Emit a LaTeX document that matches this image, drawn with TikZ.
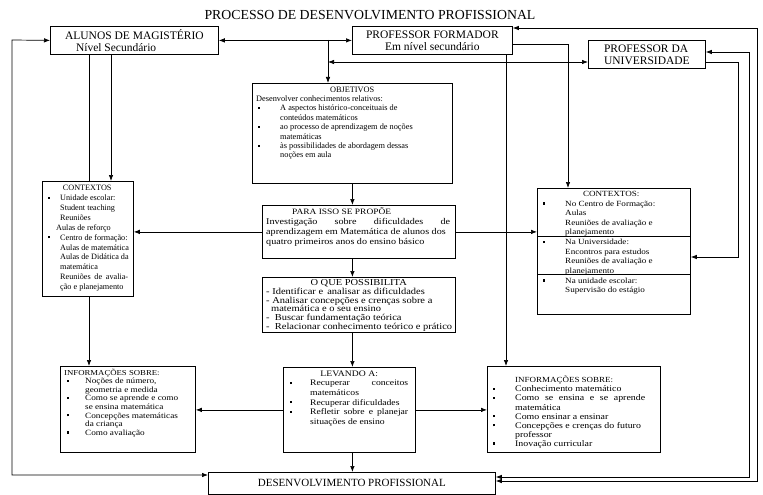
\documentclass[tikz,border=0pt]{standalone}
\usepackage{fontspec}
\setmainfont{Liberation Serif}
\newfontfamily\wf[FakeStretch=1.15]{Liberation Serif}
\usetikzlibrary{arrows.meta}
\newcommand{\fs}[2]{\fontsize{#1}{#2}\selectfont\lineskiplimit=-50pt\relax}
\newcommand{\bq}[2]{\makebox[#2][l]{\hspace*{#1}\rule[0.22em]{2.2pt}{2.2pt}}}
\newcommand{\ci}[1]{\hspace*{#1}}
\begin{document}
\begin{tikzpicture}[x=1pt,y=-1pt,
  box/.style={draw,line width=0.8pt,fill=white,anchor=north west,inner sep=0pt},
  txt/.style={anchor=north west,inner sep=0pt,align=left},
  conn/.style={line width=0.7pt},
  arr/.style={conn,-{Latex[length=6pt,width=4.5pt]}},
  darr/.style={conn,{Latex[length=6pt,width=4.5pt]}-{Latex[length=6pt,width=4.5pt]}},
  sepline/.style={line width=0.6pt}]
\useasboundingbox (0,0) rectangle (763,495);

% title
\node[font=\fs{13.8}{14}] (title) at (370,15) {PROCESSO DE DESENVOLVIMENTO PROFISSIONAL};

% top boxes
\node[box,minimum width=168pt,minimum height=28pt,align=left,font=\fs{11.5}{12}] (alunos) at (50,26) {ALUNOS DE MAGISTÉRIO\\\hspace*{11pt}Nível Secundário};
\node[box,minimum width=160pt,minimum height=28pt,align=center,font=\fs{11.5}{12}] (form) at (352,26) {PROFESSOR FORMADOR\\Em nível secundário};
\node[box,minimum width=117pt,minimum height=28pt,align=left,font=\fs{11.5}{12}] (pdu) at (588,40) {PROFESSOR DA\\UNIVERSIDADE};

% OBJETIVOS
\node[box,minimum width=200pt,minimum height=100pt] (obj) at (252,83) {};
\node[txt,font=\fs{8.3}{9.4}] (objt) at (256,86.5) {\makebox[192pt][c]{OBJETIVOS}\\
Desenvolver conhecimentos relativos:\\
\bq{2pt}{24pt}A aspectos histórico-conceituais de\\
\ci{24pt}conteúdos matemáticos\\
\bq{2pt}{24pt}ao processo de aprendizagem de noções\\
\ci{24pt}matemáticas\\
\bq{2pt}{24pt}às possibilidades de abordagem dessas\\
\ci{24pt}noções em aula};

% PARA ISSO SE PROPOE
\node[box,minimum width=193pt,minimum height=53pt] (para) at (262,205) {};
\node[txt,font={\wf\fs{8.8}{10}}] (parat) at (266,207.5) {\ci{26pt}{\fontsize{8.2}{10}\selectfont PARA ISSO SE PROPÕE}\\
\makebox[184pt][s]{Investigação sobre dificuldades de}\\
aprendizagem em Matemática de alunos dos\\
quatro primeiros anos do ensino básico};

% O QUE POSSIBILITA
\node[box,minimum width=193pt,minimum height=55pt] (oque) at (262,277) {};
\node[txt,font={\wf\fs{9.1}{8.7}}] (oquet) at (266,279.5) {\makebox[185pt][c]{O QUE POSSIBILITA}\\
- Identificar e\, analisar as dificuldades\\
- Analisar concepções e crenças sobre a\\
\ci{5pt}matemática e o seu ensino\\
-\ \ Buscar fundamentação teórica\\
-\ \ Relacionar conhecimento teórico e prático};

% LEVANDO A
\node[box,minimum width=132pt,minimum height=85pt] (lev) at (283,367) {};
\node[txt,font={\wf\fs{8.4}{9.6}}] (levt) at (287,370.5) {\makebox[124pt][c]{LEVANDO A:}\\
\bq{3pt}{23pt}\makebox[98pt][s]{Recuperar conceitos}\\
\ci{23pt}matemáticos\\
\bq{3pt}{23pt}Recuperar dificuldades\\
\bq{3pt}{23pt}\makebox[98pt][s]{Refletir sobre e planejar}\\
\ci{23pt}situações de ensino};

% INFORMACOES left
\node[box,minimum width=135pt,minimum height=86pt] (infoL) at (60,366) {};
\node[txt,font={\wf\fs{8.0}{8.6}}] (infoLt) at (64,368.5) {{\fontsize{7.6}{8.6}\selectfont INFORMAÇÕES SOBRE:}\\
\bq{3pt}{21pt}Noções de número,\\
\ci{21pt}geometria e medida\\
\bq{3pt}{21pt}Como se aprende e como\\
\ci{21pt}se ensina matemática\\
\bq{3pt}{21pt}Concepções matemáticas\\
\ci{21pt}da criança\\
\bq{3pt}{21pt}Como avaliação};

% INFORMACOES right
\node[box,minimum width=173pt,minimum height=86pt] (infoR) at (487,366) {};
\node[txt,font={\wf\fs{8.6}{9.1}}] (infoRt) at (493,376) {\ci{22pt}{\fontsize{7.8}{9.1}\selectfont INFORMAÇÕES SOBRE:}\\
\bq{0pt}{22pt}Conhecimento matemático\\
\bq{0pt}{22pt}\makebox[130pt][s]{Como se ensina e se aprende}\\
\ci{22pt}matemática\\
\bq{0pt}{22pt}Como ensinar a ensinar\\
\bq{0pt}{22pt}Concepções e crenças do futuro\\
\ci{22pt}professor\\
\bq{0pt}{22pt}Inovação curricular};

% CONTEXTOS left
\node[box,minimum width=91pt,minimum height=115pt] (ctxL) at (42,181) {};
\node[txt,font=\fs{8.2}{9.9}] (ctxLt) at (46,185) {\makebox[82pt][c]{CONTEXTOS}\\
\bq{2pt}{14pt}Unidade escolar:\\
\ci{14pt}Student teaching\\
\ci{14pt}Reuniões\\
\ci{10pt}Aulas de reforço\\
\bq{2pt}{14pt}Centro de formação:\\
\ci{14pt}Aulas de matemática\\
\ci{14pt}Aulas de Didática da\\
\ci{14pt}matemática\\
\ci{14pt}\makebox[68pt][s]{Reuniões de avalia-}\\
\ci{14pt}ção e planejamento};

% CONTEXTOS right
\node[box,minimum width=153pt,minimum height=126pt] (ctxR) at (537,188) {};
\node[txt,font={\wf\fs{7.9}{9.5}}] (ctxRa) at (543,191.5) {\makebox[136pt][c]{CONTEXTOS:}\\
\bq{0pt}{22pt}No Centro de Formação:\\
\ci{22pt}Aulas\\
\ci{22pt}Reuniões de avaliação e\\
\ci{22pt}planejamento};
\node[txt,font={\wf\fs{7.9}{9.5}}] (ctxRb) at ([yshift=-2.4pt]ctxRa.south west) {\bq{0pt}{22pt}Na Universidade:\\
\ci{22pt}Encontros para estudos\\
\ci{22pt}Reuniões de avaliação e\\
\ci{22pt}planejamento};
\node[txt,font={\wf\fs{7.9}{9.5}}] (ctxRc) at ([yshift=-2.4pt]ctxRb.south west) {\bq{0pt}{22pt}Na unidade escolar:\\
\ci{22pt}Supervisão do estágio};
\draw[sepline] ([yshift=0.6pt]ctxR.west |- ctxRa.south) -- ([yshift=0.6pt]ctxR.east |- ctxRa.south);
\draw[sepline] ([yshift=0.6pt]ctxR.west |- ctxRb.south) -- ([yshift=0.6pt]ctxR.east |- ctxRb.south);

% DESENVOLVIMENTO PROFISSIONAL
\node[box,minimum width=287pt,minimum height=22pt,font=\fs{11}{12}] (dp) at (208,472) {DESENVOLVIMENTO PROFISSIONAL};

% coordinates
\coordinate (j1) at (328,40);
\coordinate (j2) at (328,62);
\coordinate (aS1) at ([xshift=39pt]alunos.south west);
\coordinate (aS2) at ([xshift=61pt]alunos.south west);
\coordinate (cLS) at ([xshift=47pt]ctxL.south west);
\coordinate (fS) at ([xshift=154pt]form.south west);
\coordinate (fE) at ([yshift=-4pt]form.east);
\coordinate (cRN) at ([xshift=31pt]ctxR.north west);
\coordinate (fT) at ([yshift=-2pt]form.north east);
\coordinate (pE1) at ([yshift=-12pt]pdu.north east);
\coordinate (pE2) at ([yshift=-22pt]pdu.north east);
\coordinate (cRE) at ([yshift=-69pt]ctxR.north east);
\coordinate (dpW) at ([yshift=-3pt]dp.north west);
\coordinate (dpE1) at ([yshift=-5pt]dp.north east);
\coordinate (dpE2) at ([yshift=-9pt]dp.north east);
\coordinate (L1) at (12,40);
\coordinate (R1) at (749,52);
\coordinate (R2) at (757,28);
\coordinate (R3) at (738,62);

% connectors
\draw[darr] (alunos.east) -- (form.west);
\draw[arr] (j1) -- (j1 |- obj.north);
\draw[darr] (j2) -- (j2 -| pdu.west);
\draw[arr] (fE) -| (cRN);
\draw[arr] (fS) -- (fS |- infoR.north);
\draw[darr] (dpE2) -| (R2) -- (fT);
\draw[darr] (dpE1) -| (R1) -- (pE1);
\draw[arr] (pE2) -- (R3) |- (cRE);
\draw[darr] (dpW) -| (L1) -- (alunos.west);
\draw[arr] (aS2) -- (aS2 |- ctxL.north);
\draw[conn] (aS1) -- (aS1 |- ctxL.north);
\draw[arr] (cLS) -- (cLS |- infoL.north);
\draw[arr] (obj.south) -- (obj.south |- para.north);
\draw[arr] (obj.south |- para.south) -- (obj.south |- oque.north);
\draw[arr] (obj.south |- oque.south) -- (obj.south |- lev.north);
\draw[arr] (obj.south |- lev.south) -- (obj.south |- dp.north);
\draw[arr] (para.west) -- (para.west -| ctxL.east);
\draw[arr] (para.east) -- (para.east -| ctxR.west);
\draw[arr] (lev.west) -- (lev.west -| infoL.east);
\draw[arr] (lev.east) -- (lev.east -| infoR.west);
\end{tikzpicture}
\end{document}
